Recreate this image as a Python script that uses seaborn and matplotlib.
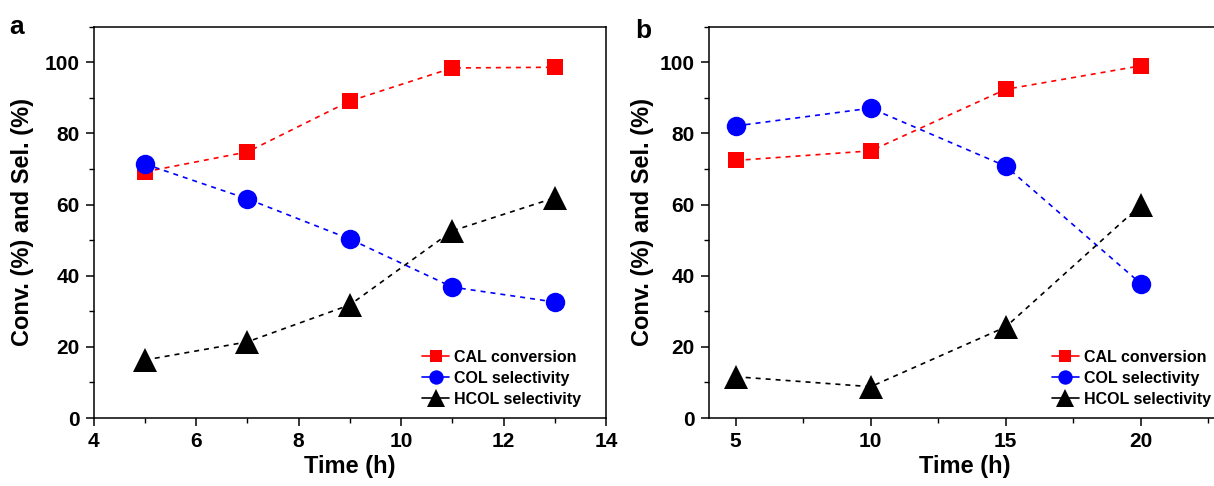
import numpy as np
import pandas as pd
import matplotlib
matplotlib.use("Agg")
import matplotlib.pyplot as plt
from matplotlib.ticker import MultipleLocator
import seaborn as sns

# ---- data ----
time_a = [5, 7, 9, 11, 13]
cal_a = [69.2, 74.8, 89.1, 98.4, 98.6]
col_a = [71.4, 61.6, 50.3, 36.8, 32.6]
hcol_a = [16.3, 21.4, 31.8, 52.6, 61.9]

time_b = [5, 10, 15, 20]
cal_b = [72.4, 75.1, 92.4, 99.0]
col_b = [82.1, 87.1, 70.8, 37.8]
hcol_b = [11.6, 8.8, 25.6, 59.8]

labels = ["CAL conversion", "COL selectivity", "HCOL selectivity"]
colors = ["#ff0000", "#0000ff", "#000000"]
markers = ["s", "o", "^"]
msizes = [12, 14, 17]

sns.set_theme(style="ticks")
plt.rcParams["font.family"] = ["Liberation Sans", "DejaVu Sans"]
plt.rcParams["font.weight"] = "bold"
plt.rcParams["axes.labelweight"] = "bold"
for k in ["text.color", "axes.labelcolor", "xtick.color", "ytick.color",
          "axes.edgecolor"]:
    plt.rcParams[k] = "black"

fig = plt.figure(figsize=(12.14, 4.86), dpi=100)
W, H = 1214, 486
ax_a = fig.add_axes([93.7 / W, 1 - 418 / H, (606 - 93.7) / W, (418 - 26.7) / H])
ax_b = fig.add_axes([708.7 / W, 1 - 418 / H, 19 * 27 / W, (418 - 26.7) / H])


def draw(ax, t, series, xlim, xmaj, xmin_, leg_x):
    for vals, lab, c, m, ms in zip(series, labels, colors, markers, msizes):
        df = pd.DataFrame({"t": t, "v": vals})
        sns.lineplot(data=df, x="t", y="v", ax=ax, color=c, marker=m,
                     markersize=ms, markeredgewidth=0, linewidth=1.2,
                     dashes=False, linestyle=(0, (3, 3)), label=lab,
                     sort=False, errorbar=None)
    ax.set_xlim(*xlim)
    ax.set_ylim(0, 110)
    ax.xaxis.set_major_locator(MultipleLocator(xmaj))
    ax.xaxis.set_minor_locator(MultipleLocator(xmin_))
    ax.yaxis.set_minor_locator(MultipleLocator(10))
    ax.set_yticks([0, 20, 40, 60, 80, 100])
    ax.tick_params(which="major", direction="out", length=6, width=1.1,
                   labelsize=15, color="black", labelcolor="black", pad=4)
    ax.tick_params(which="minor", direction="out", length=3.5, width=1.0,
                   color="black")
    for lab in ax.get_xticklabels() + ax.get_yticklabels():
        lab.set_fontweight("bold")
    for s in ax.spines.values():
        s.set_linewidth(1.1)
        s.set_color("black")
    ax.set_xlabel("Time (h)", fontsize=17, fontweight="bold", labelpad=3)
    leg = ax.legend(loc="center left", bbox_to_anchor=(leg_x, 0.102),
                    frameon=False, fontsize=11.5, markerscale=0.74,
                    handlelength=1.7, handletextpad=0.3, labelspacing=0.38,
                    borderpad=0, borderaxespad=0)
    for txt in leg.get_texts():
        txt.set_fontweight("bold")
        txt.set_color("black")
    for h in leg.get_lines():
        h.set_linestyle("-")


draw(ax_a, time_a, [cal_a, col_a, hcol_a], (4, 14), 2, 1, 0.641)
draw(ax_b, time_b, [cal_b, col_b, hcol_b], (4, 23), 5, 2.5, 0.669)
ax_a.set_ylabel("Conv. (%) and Sel. (%)", fontsize=17, fontweight="bold",
                labelpad=8)
ax_b.set_ylabel("Conv. (%) and Sel. (%)", fontsize=17, fontweight="bold",
                labelpad=4)

fig.text(9 / W, 1 - 34 / H, "a", fontsize=19, fontweight="bold")
fig.text(635 / W, 1 - 38 / H, "b", fontsize=19, fontweight="bold")

fig.savefig("out.png", dpi=100)
